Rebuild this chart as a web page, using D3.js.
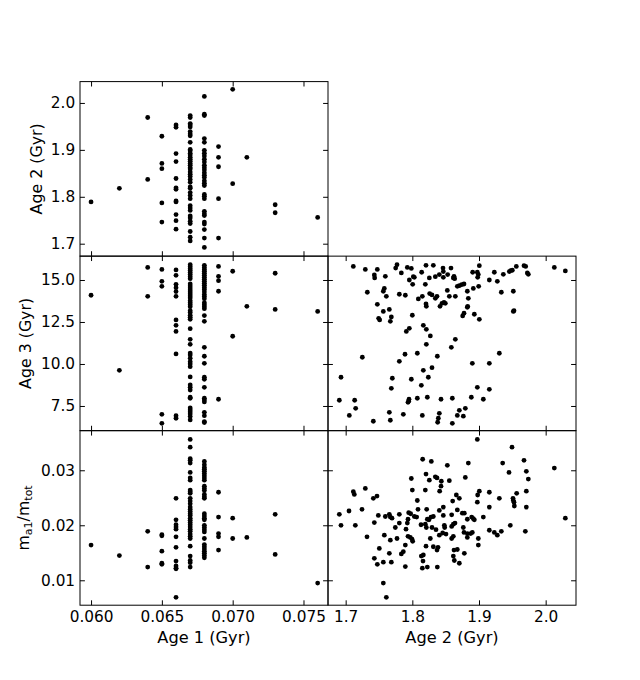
<!DOCTYPE html>
<html>
<head>
<meta charset="utf-8">
<script src="https://cdn.jsdelivr.net/npm/d3@7"></script>
<style>
  body { margin: 0; background: #fff; }
  text { font-family: "DejaVu Sans", sans-serif; fill: #000; }
</style>
</head>
<body>
<div id="chart"></div>
<script>
// tick values for each quantity
var age1Ticks = [0.060, 0.065, 0.070, 0.075];
var age2Ticks = [1.7, 1.8, 1.9, 2.0];
var age3Ticks = [7.5, 10.0, 12.5, 15.0];
var massTicks = [0.01, 0.02, 0.03];

// Age 2 grouped by Age 1 (top left)
var age2ByAge1 = [
  [0.060, [1.789]],
  [0.062, [1.818]],
  [0.064, [1.969, 1.837]],
  [0.065, [1.929, 1.871, 1.860, 1.787, 1.746]],
  [0.066, [1.953, 1.948, 1.892, 1.875, 1.839, 1.819, 1.816, 1.791, 1.789, 1.762, 1.749, 1.731]],
  [0.067, [1.973, 1.969, 1.956, 1.953, 1.949, 1.939, 1.934, 1.930, 1.916, 1.901, 1.898, 1.893, 1.889, 1.884, 1.880, 1.876, 1.871, 1.867, 1.862, 1.859, 1.853, 1.848, 1.843, 1.837, 1.831, 1.821, 1.818, 1.809, 1.803, 1.796, 1.781, 1.776, 1.771, 1.759, 1.755, 1.748, 1.743, 1.726, 1.714, 1.706]],
  [0.068, [2.014, 1.976, 1.973, 1.924, 1.916, 1.899, 1.893, 1.887, 1.880, 1.874, 1.867, 1.862, 1.857, 1.851, 1.846, 1.841, 1.834, 1.829, 1.824, 1.805, 1.801, 1.796, 1.769, 1.764, 1.760, 1.746, 1.742, 1.730, 1.712, 1.692]],
  [0.069, [1.907, 1.884, 1.864, 1.796, 1.712]],
  [0.070, [2.029, 1.828]],
  [0.071, [1.884]],
  [0.073, [1.783, 1.766]],
  [0.076, [1.756]]
];

// Age 3 grouped by Age 1 (middle left)
var age3ByAge1 = [
  [0.060, [14.09]],
  [0.062, [9.62]],
  [0.064, [15.75, 14.03]],
  [0.065, [15.63, 14.92, 14.62, 7.00, 6.47]],
  [0.066, [15.60, 15.28, 14.74, 14.54, 14.31, 14.03, 12.62, 12.30, 11.94, 10.60, 6.92, 6.77]],
  [0.067, [15.91, 15.79, 15.67, 15.56, 15.44, 15.32, 15.20, 15.08, 14.76, 14.64, 14.52, 14.40, 14.29, 14.17, 14.05, 13.93, 13.77, 13.65, 13.53, 13.41, 13.17, 13.06, 12.90, 12.78, 12.66, 12.10, 11.47, 11.17, 10.65, 10.54, 10.34, 10.14, 10.00, 9.84, 9.23, 8.75, 8.61, 8.45, 8.02, 7.96, 7.38, 7.26, 7.14, 7.02, 6.87, 6.67]],
  [0.068, [15.87, 15.75, 15.63, 15.52, 15.40, 15.28, 15.16, 15.04, 14.92, 14.80, 14.68, 14.56, 14.44, 14.29, 14.13, 14.01, 13.89, 13.65, 13.53, 13.41, 13.29, 12.88, 12.54, 10.99, 10.46, 10.04, 9.21, 9.09, 8.61, 7.96, 7.86, 7.74, 7.12, 6.92, 6.57, 6.51]],
  [0.069, [15.81, 15.22, 14.96, 14.33, 7.90]],
  [0.070, [15.52, 11.65]],
  [0.071, [13.43]],
  [0.073, [15.40, 13.25]],
  [0.076, [13.13]]
];

// m_a1/m_tot grouped by Age 1 (bottom left)
var massByAge1 = [
  [0.060, [0.0164]],
  [0.062, [0.0145]],
  [0.064, [0.0189, 0.0124]],
  [0.065, [0.0183, 0.0181, 0.0153, 0.0131, 0.0129]],
  [0.066, [0.0249, 0.0210, 0.0201, 0.0197, 0.0193, 0.0179, 0.0160, 0.0135, 0.0126, 0.0122, 0.0121, 0.0069]],
  [0.067, [0.0356, 0.0342, 0.0321, 0.0318, 0.0313, 0.0296, 0.0286, 0.0282, 0.0264, 0.0261, 0.0258, 0.0249, 0.0244, 0.0239, 0.0233, 0.0229, 0.0225, 0.0221, 0.0218, 0.0213, 0.0209, 0.0205, 0.0201, 0.0197, 0.0193, 0.0189, 0.0184, 0.0180, 0.0176, 0.0162, 0.0144, 0.0136, 0.0132, 0.0124]],
  [0.068, [0.0316, 0.0310, 0.0305, 0.0302, 0.0298, 0.0294, 0.0290, 0.0286, 0.0282, 0.0271, 0.0267, 0.0263, 0.0256, 0.0252, 0.0249, 0.0221, 0.0217, 0.0213, 0.0210, 0.0200, 0.0196, 0.0192, 0.0188, 0.0176, 0.0165, 0.0161, 0.0157, 0.0153, 0.0149, 0.0145, 0.0141]],
  [0.069, [0.0260, 0.0215, 0.0185, 0.0179, 0.0155]],
  [0.070, [0.0213, 0.0176]],
  [0.071, [0.0178]],
  [0.073, [0.0220, 0.0147]],
  [0.076, [0.0095]]
];

// [Age 2, Age 3] pairs (middle right)
var age3VsAge2 = [
  [1.7115, 15.81], [1.7295, 15.63], [1.743, 15.30], [1.7435, 15.12], [1.7475, 15.63], [1.7595, 15.22],
  [1.775, 15.71], [1.777, 15.91], [1.7835, 15.42], [1.7925, 15.75], [1.7985, 15.69], [1.8015, 15.20],
  [1.7955, 15.00], [1.8005, 14.74], [1.803, 15.16], [1.814, 15.46], [1.8205, 15.87], [1.8195, 14.74],
  [1.8255, 15.12], [1.8315, 15.87], [1.8345, 15.20], [1.8405, 15.32], [1.846, 15.71], [1.8465, 15.50],
  [1.8465, 15.16], [1.853, 15.32], [1.858, 15.71], [1.8615, 15.12], [1.8635, 15.08], [1.8625, 15.22],
  [1.7325, 14.27], [1.758, 14.50], [1.7565, 14.33], [1.761, 14.03], [1.7805, 14.15], [1.7895, 14.09],
  [1.809, 13.87], [1.815, 14.03], [1.8205, 13.57], [1.821, 13.43], [1.826, 14.19], [1.8295, 14.11],
  [1.8345, 13.91], [1.837, 14.03], [1.8415, 13.43], [1.8445, 13.61], [1.8475, 13.67], [1.8495, 13.61],
  [1.8525, 14.38], [1.8555, 14.03], [1.8645, 14.03], [1.7475, 13.55], [1.7565, 13.13], [1.7655, 13.25],
  [1.7495, 12.72], [1.751, 12.62], [1.7685, 12.80], [1.767, 12.54], [1.800, 12.90], [1.7955, 12.12],
  [1.791, 11.94], [1.8165, 12.30], [1.821, 12.06], [1.827, 11.67], [1.821, 11.17], [1.8645, 11.47],
  [1.8585, 10.99], [1.725, 10.40], [1.789, 10.58], [1.7805, 10.16], [1.8075, 10.64], [1.8375, 10.46],
  [1.693, 9.21], [1.770, 9.15], [1.7985, 9.09], [1.8165, 9.62], [1.8295, 9.78], [1.824, 9.21],
  [1.8135, 8.73], [1.7685, 8.55], [1.6905, 7.84], [1.7135, 7.84], [1.715, 7.36], [1.7055, 6.94],
  [1.7415, 6.59], [1.7655, 7.12], [1.767, 6.65], [1.7865, 7.00], [1.795, 7.90], [1.7945, 7.78],
  [1.7935, 7.72], [1.8075, 7.96], [1.8225, 8.02], [1.815, 6.94], [1.843, 7.90], [1.860, 7.96],
  [1.8405, 7.06], [1.839, 6.77], [1.838, 6.53], [1.860, 6.47],
  [1.8675, 14.62], [1.8705, 14.66], [1.874, 14.72], [1.8775, 14.76], [1.8825, 14.33], [1.884, 13.91],
  [1.8905, 15.46], [1.8915, 14.50], [1.8975, 15.46], [1.898, 15.16], [1.899, 15.32], [1.9005, 15.85],
  [1.8995, 14.62], [1.9155, 15.00], [1.923, 15.46], [1.9275, 14.92], [1.9365, 15.34], [1.9455, 15.50],
  [1.9475, 15.56], [1.950, 15.58], [1.956, 15.81], [1.9675, 15.85], [1.970, 15.81], [1.9725, 15.42],
  [1.974, 15.34], [2.013, 15.75], [2.0295, 15.54], [1.9335, 14.27], [1.9515, 14.33], [1.9515, 13.13],
  [1.9525, 13.17], [1.8825, 13.37], [1.883, 13.43], [1.8775, 13.02], [1.8755, 12.86], [1.893, 12.96],
  [1.9005, 12.66], [1.9305, 10.64], [1.890, 10.04], [1.9155, 10.04], [1.8975, 8.61], [1.9155, 8.49],
  [1.8885, 8.02], [1.9065, 7.90], [1.8705, 7.24], [1.8795, 7.36], [1.8675, 6.94], [1.8765, 6.89]
];

// [Age 2, m_a1/m_tot] pairs (bottom right)
var massVsAge2 = [
  [1.8155, 0.0320], [1.8285, 0.0316], [1.8525, 0.0309], [1.7985, 0.0285], [1.8205, 0.0293], [1.8345, 0.0288],
  [1.837, 0.0286], [1.8255, 0.0282], [1.8435, 0.0280], [1.8555, 0.0281], [1.843, 0.0271], [1.841, 0.0262],
  [1.800, 0.0264], [1.8195, 0.0264], [1.7295, 0.0267], [1.7115, 0.0261], [1.713, 0.0256], [1.747, 0.0253],
  [1.7415, 0.0249], [1.8075, 0.0245], [1.8465, 0.0233], [1.8405, 0.0227], [1.8215, 0.0229], [1.8085, 0.0229],
  [1.7945, 0.0223], [1.7975, 0.0221], [1.6905, 0.0220], [1.705, 0.0226], [1.7245, 0.0229], [1.749, 0.0218],
  [1.7595, 0.0216], [1.7655, 0.0220], [1.767, 0.0215], [1.7695, 0.0213], [1.7805, 0.0220], [1.7935, 0.0211],
  [1.803, 0.0216], [1.8065, 0.0215], [1.743, 0.0205], [1.7745, 0.0196], [1.7805, 0.0204], [1.7925, 0.0204],
  [1.813, 0.0201], [1.8195, 0.0202], [1.8225, 0.0211], [1.825, 0.0210], [1.828, 0.0215], [1.8315, 0.0216],
  [1.8465, 0.0218], [1.8355, 0.0192], [1.848, 0.0200], [1.8485, 0.0196], [1.693, 0.0200], [1.7145, 0.0200],
  [1.732, 0.0179], [1.758, 0.0182], [1.767, 0.0173], [1.777, 0.0176], [1.7905, 0.0193], [1.7935, 0.0180],
  [1.797, 0.0178], [1.7995, 0.0175], [1.8005, 0.0171], [1.821, 0.0196], [1.8295, 0.0196], [1.827, 0.0176],
  [1.8405, 0.0182], [1.8455, 0.0186], [1.8505, 0.0184], [1.7895, 0.0164], [1.7865, 0.0152], [1.7835, 0.0148],
  [1.7505, 0.0158], [1.7655, 0.0149], [1.8205, 0.0162], [1.8315, 0.0161], [1.8385, 0.0160], [1.837, 0.0155],
  [1.743, 0.0140], [1.7475, 0.0129], [1.7565, 0.0133], [1.7685, 0.0133], [1.7895, 0.0125], [1.8135, 0.0144],
  [1.8165, 0.0146], [1.816, 0.0135], [1.815, 0.0122], [1.8225, 0.0124], [1.8375, 0.0124], [1.7565, 0.0095],
  [1.761, 0.0069],
  [1.8975, 0.0356], [1.9495, 0.0342], [1.884, 0.0313], [1.9355, 0.0313], [1.9675, 0.0318], [1.945, 0.0296],
  [1.971, 0.0298], [1.974, 0.0284], [2.013, 0.0304], [1.8795, 0.0287], [1.9005, 0.0262], [1.898, 0.0255],
  [1.9155, 0.0260], [1.971, 0.0262], [1.9565, 0.0258], [1.866, 0.0255], [1.8705, 0.0249], [1.8605, 0.0244],
  [1.9305, 0.0249], [1.951, 0.0249], [1.9515, 0.0245], [1.9525, 0.0242], [1.953, 0.0235], [1.9155, 0.0233],
  [1.8975, 0.0242], [1.971, 0.0233], [1.859, 0.0219], [1.8675, 0.0228], [1.875, 0.0222], [1.878, 0.0222],
  [1.8825, 0.0211], [1.889, 0.0215], [1.8915, 0.0212], [1.893, 0.0210], [1.9065, 0.0215], [2.0295, 0.0213],
  [1.864, 0.0204], [1.8615, 0.0202], [1.859, 0.0198], [1.8765, 0.0196], [1.8775, 0.0187], [1.8825, 0.0185],
  [1.8825, 0.0178], [1.8875, 0.0185], [1.890, 0.0187], [1.9155, 0.0191], [1.923, 0.0187], [1.9275, 0.0182],
  [1.9335, 0.0189], [1.947, 0.0200], [1.9695, 0.0189], [1.8615, 0.0180], [1.859, 0.0176], [1.899, 0.0176],
  [1.899, 0.0164], [1.8675, 0.0156], [1.8625, 0.0155], [1.878, 0.0149], [1.8615, 0.0144], [1.863, 0.0136],
  [1.8705, 0.0131]
];

// figure size and grid of panels (3 rows x 2 columns, no spacing)
var W = 640, H = 680;
var gridLeft = 80, gridRight = 576, gridTop = 81.6, gridBottom = 605.2;
var pw = (gridRight - gridLeft) / 2, ph = (gridBottom - gridTop) / 3;
var tickLen = 4.9;

var svg = d3.select("#chart").append("svg")
  .attr("width", W).attr("height", H);

function flatten(groups) {
  return groups.flatMap(function(g) { return g[1].map(function(v) { return [g[0], v]; }); });
}

// shared domains (same range for a quantity in every panel)
var age1Domain = [0.05922, 0.07673];
var age2Domain = [1.6735, 2.0455];
var age3Domain = [6.03, 16.42];
var massDomain = [0.00547, 0.0372];

var panels = [
  {row: 0, col: 0, xd: age1Domain, yd: age2Domain, xt: age1Ticks, yt: age2Ticks, xf: ".3f", yf: ".1f", data: flatten(age2ByAge1), ylab: "Age 2 (Gyr)", labX: 41.5},
  {row: 1, col: 0, xd: age1Domain, yd: age3Domain, xt: age1Ticks, yt: age3Ticks, xf: ".3f", yf: ".1f", data: flatten(age3ByAge1), ylab: "Age 3 (Gyr)", labX: 30.5},
  {row: 1, col: 1, xd: age2Domain, yd: age3Domain, xt: age2Ticks, yt: age3Ticks, xf: ".1f", yf: ".1f", data: age3VsAge2},
  {row: 2, col: 0, xd: age1Domain, yd: massDomain, xt: age1Ticks, yt: massTicks, xf: ".3f", yf: ".2f", data: flatten(massByAge1), ylab: "mass", labX: 28.5, xlab: "Age 1 (Gyr)"},
  {row: 2, col: 1, xd: age2Domain, yd: massDomain, xt: age2Ticks, yt: massTicks, xf: ".1f", yf: ".2f", data: massVsAge2, xlab: "Age 2 (Gyr)"}
];

panels.forEach(function(p) {
  var x0 = gridLeft + p.col * pw, y0 = gridTop + p.row * ph;
  var x = d3.scaleLinear().domain(p.xd).range([x0, x0 + pw]);
  var y = d3.scaleLinear().domain(p.yd).range([y0 + ph, y0]);
  var showX = p.row === 2, showY = p.col === 0;

  // points
  svg.append("g").selectAll("circle")
    .data(p.data)
    .enter().append("circle")
      .attr("cx", function(d) { return x(d[0]); })
      .attr("cy", function(d) { return y(d[1]); })
      .attr("r", 2.4)
      .attr("fill", "#000");

  // axes, ticks pointing inwards on all four sides
  var axB = d3.axisBottom(x).tickValues(p.xt).tickSizeInner(-tickLen).tickSizeOuter(0).tickPadding(6.2)
    .tickFormat(showX ? d3.format(p.xf) : "");
  var axT = d3.axisTop(x).tickValues(p.xt).tickSizeInner(-tickLen).tickSizeOuter(0).tickFormat("");
  var axL = d3.axisLeft(y).tickValues(p.yt).tickSizeInner(-tickLen).tickSizeOuter(0).tickPadding(4.9)
    .tickFormat(showY ? d3.format(p.yf) : "");
  var axR = d3.axisRight(y).tickValues(p.yt).tickSizeInner(-tickLen).tickSizeOuter(0).tickFormat("");

  [[axB, "translate(0," + (y0 + ph) + ")"], [axT, "translate(0," + y0 + ")"],
   [axL, "translate(" + x0 + ",0)"], [axR, "translate(" + (x0 + pw) + ",0)"]].forEach(function(a) {
    var g = svg.append("g").attr("transform", a[1]).call(a[0]);
    g.select(".domain").remove();
    g.selectAll(".tick line").attr("stroke", "#000").attr("stroke-width", 1);
    g.selectAll(".tick text").attr("font-family", "DejaVu Sans").attr("font-size", 15.3).attr("fill", "#000");
  });

  // frame
  svg.append("rect")
    .attr("x", x0).attr("y", y0).attr("width", pw).attr("height", ph)
    .attr("fill", "none").attr("stroke", "#000").attr("stroke-width", 1);

  // y label
  if (p.ylab) {
    var t = svg.append("text")
      .attr("transform", "translate(" + p.labX + "," + (y0 + ph / 2) + ") rotate(-90)")
      .attr("text-anchor", "middle")
      .style("font-size", "15.8px");
    if (p.ylab === "mass") {
      t.append("tspan").text("m");
      t.append("tspan").attr("font-size", "11px").attr("dy", 3).text("a1");
      t.append("tspan").attr("dy", -3).text("/m");
      t.append("tspan").attr("font-size", "11px").attr("dy", 3).text("tot");
    } else {
      t.text(p.ylab);
    }
  }

  // x label
  if (p.xlab) {
    svg.append("text")
      .attr("x", x0 + pw / 2).attr("y", 642.5)
      .attr("text-anchor", "middle")
      .style("font-size", "16.2px")
      .text(p.xlab);
  }
});
</script>
</body>
</html>
